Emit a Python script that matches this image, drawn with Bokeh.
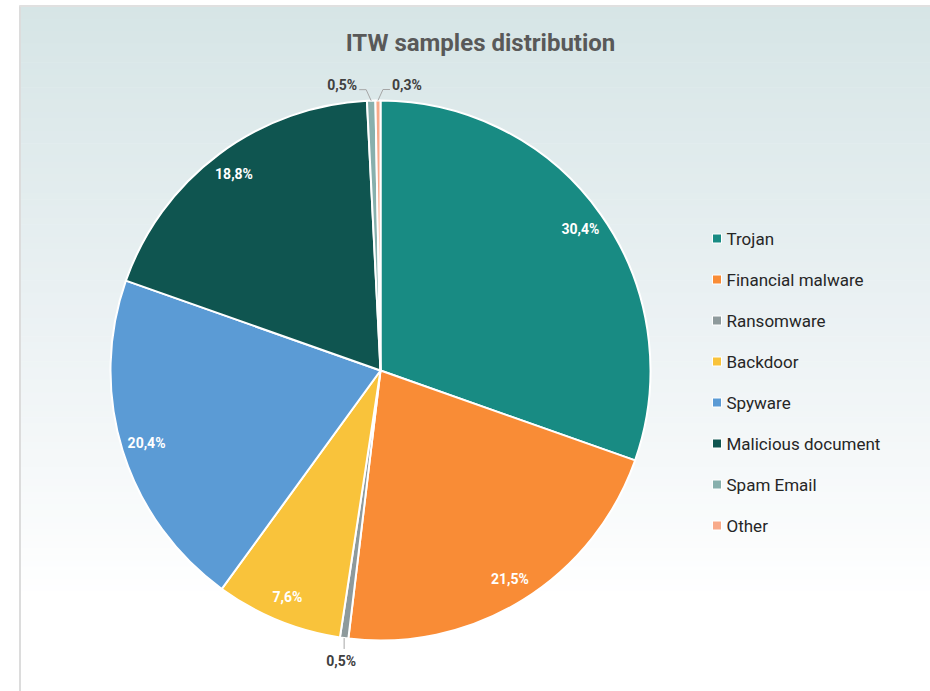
import math
from bokeh.plotting import figure
from bokeh.models import Range1d, ColumnDataSource
from bokeh.core.properties import value
from bokeh.embed import file_html
from bokeh.resources import INLINE

# ---- data ----
categories = ["Trojan", "Financial malware", "Ransomware", "Backdoor",
              "Spyware", "Malicious document", "Spam Email", "Other"]
shares = [30.4, 21.5, 0.5, 7.6, 20.4, 18.8, 0.5, 0.3]
labels = ["30,4%", "21,5%", "0,5%", "7,6%", "20,4%", "18,8%", "0,5%", "0,3%"]
colors = ["#188b83", "#f98c36", "#8e9a9c", "#f9c33b",
          "#5b9bd5", "#0f5550", "#88b0ad", "#f8aa8a"]
title_text = "ITW samples distribution"

W, H = 930, 691


def sy(screen_y):
    return H - screen_y


p = figure(width=W, height=H, x_range=Range1d(0, W), y_range=Range1d(0, H),
           output_backend="svg", toolbar_location=None, min_border=0)
p.axis.visible = False
p.grid.visible = False
p.outline_line_color = None
p.background_fill_color = "white"
p.border_fill_color = "white"

# ---- background panel with vertical gradient ----
top_rgb = (214, 229, 230)
mid_rgb = (236, 242, 244)
n = 110
y0, y1 = 6, 691
l, r_, b_, t_, cols = [], [], [], [], []
for i in range(n):
    ya = y0 + (y1 - y0) * i / n
    yb = y0 + (y1 - y0) * (i + 1) / n
    f = (ya + yb) / 2
    if f < 330:
        u = (f - 6) / (330 - 6)
        c = tuple(int(round(top_rgb[k] + (mid_rgb[k] - top_rgb[k]) * u)) for k in range(3))
    else:
        u = min(1.0, (f - 330) / (600 - 330))
        c = tuple(int(round(mid_rgb[k] + (255 - mid_rgb[k]) * u)) for k in range(3))
    l.append(20)
    r_.append(W)
    t_.append(sy(ya) + 0.3)
    b_.append(sy(yb) - 0.3)
    cols.append("#%02x%02x%02x" % c)
p.quad(left=l, right=r_, top=t_, bottom=b_, fill_color=cols, line_color=None)
p.line([19.5, 19.5], [sy(691), sy(5)], line_color="#dcdcdc", line_width=2)
p.line([19, W], [sy(5.5), sy(5.5)], line_color="#e0e0e0", line_width=2)

# ---- pie ----
cx, cy, R = 380, sy(370), 270
total = sum(shares)
starts, ends, mids = [], [], []
cum = 0.0
for s in shares:
    a_start = math.pi / 2 - 2 * math.pi * (cum + s) / total
    a_end = math.pi / 2 - 2 * math.pi * cum / total
    starts.append(a_start)
    ends.append(a_end)
    mids.append((a_start + a_end) / 2)
    cum += s

src = ColumnDataSource(dict(start=starts, end=ends, color=colors, cat=categories))
p.wedge(x=cx, y=cy, radius=R, start_angle="start", end_angle="end",
        fill_color="color", line_color="white", line_width=2, source=src)

# inside labels
in_x, in_y, in_t = [], [], []
out_idx = []
for i, s in enumerate(shares):
    if s >= 5:
        in_x.append(cx + 245 * math.cos(mids[i]))
        in_y.append(cy + 245 * math.sin(mids[i]))
        in_t.append(labels[i])
    else:
        out_idx.append(i)
p.text(x=in_x, y=in_y, text=in_t, text_color="white", text_font=value("Roboto"),
       text_font_style="bold", text_font_size="14px", text_align="center",
       text_baseline="middle")

# outside labels with leader lines
top_out = [i for i in out_idx if math.sin(mids[i]) > 0]
for i in out_idx:
    a = mids[i]
    px, py = cx + R * math.cos(a), cy + R * math.sin(a)
    if math.sin(a) < 0:  # bottom
        qx, qy = px, cy + (R + 11) * math.sin(a)
        p.line([px, qx], [py, qy], line_color="#a6a6a6", line_width=1)
        p.text(x=[qx - 3], y=[qy - 12], text=[labels[i]], text_color="#404040",
               text_font=value("Roboto"), text_font_style="bold", text_font_size="14px",
               text_align="center", text_baseline="middle")
    else:
        side = -1 if top_out.index(i) == 0 else 1
        kx = px + side * 5
        ky = py + 11
        hx = kx + side * 7
        p.line([px, kx, hx], [py, ky, ky], line_color="#a6a6a6", line_width=1)
        p.text(x=[hx + side * 2], y=[ky + 5], text=[labels[i]], text_color="#404040",
               text_font=value("Roboto"), text_font_style="bold", text_font_size="14px",
               text_align="right" if side < 0 else "left", text_baseline="middle")

# ---- title ----
p.text(x=[480], y=[sy(42)], text=[title_text], text_color="#595959",
       text_font=value("Roboto"), text_font_style="bold", text_font_size="24px",
       text_align="center", text_baseline="middle")

# ---- legend ----
leg_y = [sy(238 + 41 * i) for i in range(len(categories))]
p.scatter(x=[716.5] * len(categories), y=leg_y, marker="square", size=9,
          fill_color=colors, line_color="white", line_width=1)
p.text(x=[726] * len(categories), y=leg_y, text=categories, text_color="#262626",
       text_font=value("Roboto"), text_font_size="17px", text_align="left",
       text_baseline="middle")

open("out.html", "w").write(file_html(p, INLINE))
